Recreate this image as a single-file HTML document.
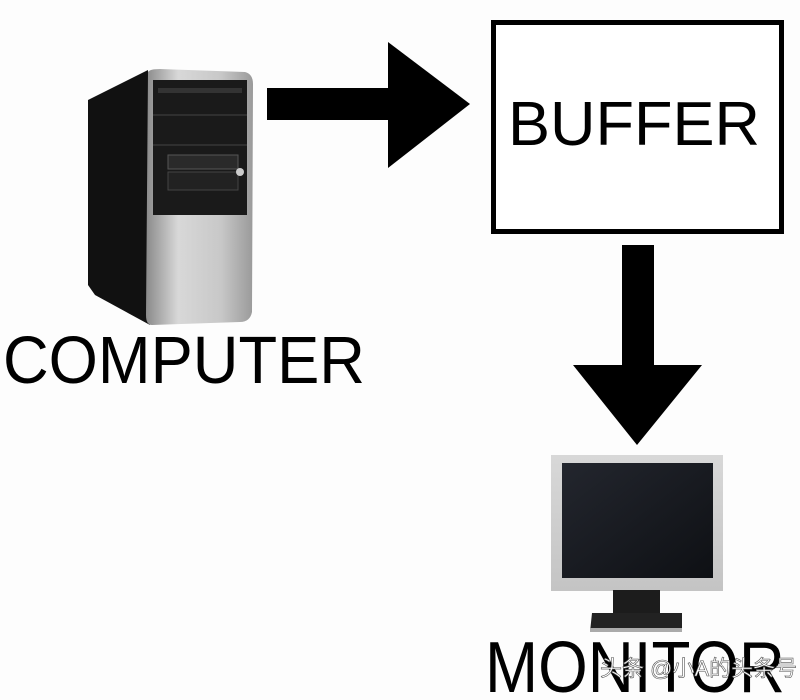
<!DOCTYPE html>
<html><head><meta charset="utf-8"><style>html,body{margin:0;padding:0;background:#fff}svg{display:block}</style></head>
<body>
<svg width="800" height="700" viewBox="0 0 800 700" xmlns="http://www.w3.org/2000/svg">
<defs>
<linearGradient id="sil" x1="0" x2="1" y1="0" y2="0"><stop offset="0" stop-color="#8a8a8a"/><stop offset="0.3" stop-color="#d8d8d8"/><stop offset="0.7" stop-color="#c8c8c8"/><stop offset="1" stop-color="#9a9a9a"/></linearGradient>
<linearGradient id="bez" x1="0" x2="0" y1="0" y2="1"><stop offset="0" stop-color="#d8d8d8"/><stop offset="1" stop-color="#c4c4c4"/></linearGradient>
<linearGradient id="scr" x1="0" x2="1" y1="0" y2="1"><stop offset="0" stop-color="#23262e"/><stop offset="1" stop-color="#0e1014"/></linearGradient>
</defs>
<rect width="800" height="700" fill="#fdfdfd"/>
<!-- computer tower -->
<polygon points="88,100 148,70 150,325 95,295 88,285" fill="#111"/>
<path d="M148,72 Q150,69 160,69 L245,72 Q253,74 253,84 L252,312 Q250,322 240,322 L152,325 Q146,325 146,315 Z" fill="url(#sil)"/>
<rect x="153" y="80" width="94" height="135" fill="#1a1a1a"/>
<line x1="153" y1="115" x2="247" y2="115" stroke="#444" stroke-width="1"/>
<line x1="153" y1="145" x2="247" y2="145" stroke="#444" stroke-width="1"/>
<rect x="168" y="155" width="70" height="14" fill="#2a2a2a" stroke="#555"/>
<rect x="168" y="172" width="70" height="18" fill="#222" stroke="#444"/>
<circle cx="240" cy="172" r="4" fill="#ccc"/>
<rect x="158" y="88" width="84" height="5" fill="#333"/>
<!-- right arrow -->
<rect x="267" y="88" width="125" height="32" fill="#000"/>
<polygon points="388,42 470,104 388,168" fill="#000"/>
<!-- buffer box -->
<rect x="493.5" y="22.5" width="288" height="209" fill="#fff" stroke="#000" stroke-width="5"/>
<text x="508" y="145" font-family="Liberation Sans, sans-serif" font-size="62" textLength="252" lengthAdjust="spacingAndGlyphs" fill="#000">BUFFER</text>
<!-- down arrow -->
<rect x="622" y="245" width="32" height="122" fill="#000"/>
<polygon points="573,365 702,365 637,445" fill="#000"/>
<!-- COMPUTER -->
<text x="3" y="383" font-family="Liberation Sans, sans-serif" font-size="67" textLength="362" lengthAdjust="spacingAndGlyphs" fill="#000">COMPUTER</text>
<!-- monitor -->
<rect x="551" y="455" width="172" height="136" fill="url(#bez)"/>
<rect x="562" y="463" width="151" height="115" fill="url(#scr)"/>
<rect x="613" y="590" width="47" height="28" fill="#1c1c1c"/>
<polygon points="592,613 682,613 682,632 590,632" fill="#222"/>
<rect x="590" y="628" width="92" height="4" fill="#aaa"/>
<text x="485" y="692" font-family="Liberation Sans, sans-serif" font-size="72" textLength="300" lengthAdjust="spacingAndGlyphs" fill="#000">MONITOR</text>
<text x="600" y="676" font-family="Liberation Sans, 'Noto Sans CJK SC', sans-serif" font-size="22" fill="#fff" stroke="#555" stroke-width="0.6">头条 @小A的头条号</text>
</svg>
</body></html>
